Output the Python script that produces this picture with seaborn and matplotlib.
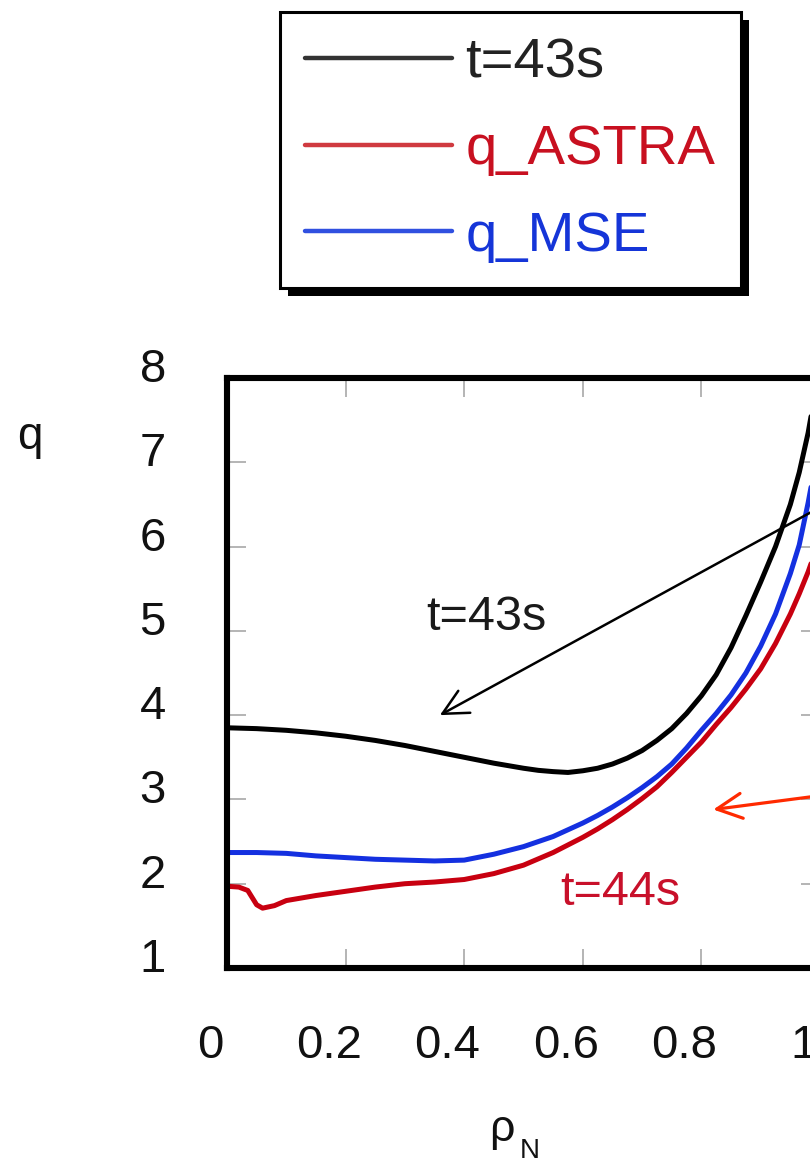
import numpy as np
import pandas as pd
import matplotlib
matplotlib.use("Agg")
import matplotlib.pyplot as plt
import seaborn as sns
from matplotlib.transforms import ScaledTranslation
from matplotlib.lines import Line2D
from matplotlib.patches import Rectangle

# ---- data ----
rho_43 = [0, 0.05, 0.1, 0.15, 0.2, 0.25, 0.3, 0.35, 0.4, 0.45, 0.5, 0.525, 0.55,
          0.575, 0.6, 0.625, 0.65, 0.675, 0.7, 0.725, 0.75, 0.775, 0.8, 0.825,
          0.85, 0.875, 0.9, 0.925, 0.95, 0.965, 0.98, 0.99, 1.0]
q_43 = [3.85, 3.84, 3.82, 3.79, 3.75, 3.70, 3.64, 3.57, 3.50, 3.43, 3.37, 3.345, 3.33,
        3.32, 3.34, 3.37, 3.42, 3.49, 3.58, 3.70, 3.84, 4.02, 4.23, 4.48,
        4.80, 5.18, 5.58, 6.00, 6.50, 6.88, 7.35, 7.75, 8.2]

rho_mse = [0, 0.05, 0.1, 0.15, 0.2, 0.25, 0.3, 0.35, 0.4, 0.45, 0.5, 0.55, 0.6,
           0.625, 0.65, 0.675, 0.7, 0.725, 0.75, 0.775, 0.8, 0.825, 0.85, 0.875,
           0.9, 0.925, 0.95, 0.965, 0.98, 0.99, 1.0]
q_mse = [2.37, 2.37, 2.36, 2.33, 2.31, 2.29, 2.28, 2.27, 2.28, 2.35, 2.44, 2.56, 2.72,
         2.81, 2.91, 3.02, 3.14, 3.27, 3.42, 3.61, 3.82, 4.02, 4.24, 4.50,
         4.82, 5.20, 5.68, 6.02, 6.52, 6.90, 7.30]

rho_astra = [0, 0.02, 0.035, 0.05, 0.06, 0.08, 0.1, 0.15, 0.2, 0.25, 0.3, 0.35, 0.4,
             0.45, 0.5, 0.55, 0.6, 0.625, 0.65, 0.675, 0.7, 0.725, 0.75, 0.775, 0.8,
             0.825, 0.85, 0.875, 0.9, 0.925, 0.95, 0.965, 0.98, 0.99, 1.0]
q_astra = [1.97, 1.96, 1.92, 1.75, 1.71, 1.74, 1.80, 1.86, 1.91, 1.96, 2.00, 2.02, 2.05,
           2.12, 2.22, 2.37, 2.55, 2.65, 2.76, 2.88, 3.01, 3.15, 3.32, 3.50, 3.68,
           3.89, 4.09, 4.31, 4.55, 4.85, 5.20, 5.44, 5.70, 5.90, 6.12]

series_labels = ["t=43s", "q_ASTRA", "q_MSE"]
x_ticks = [0, 0.2, 0.4, 0.6, 0.8, 1.0]
x_ticklabels = ["0", "0.2", "0.4", "0.6", "0.8", "1"]
y_ticks = [1, 2, 3, 4, 5, 6, 7, 8]

line_colors = {"t=43s": "#000000", "q_ASTRA": "#c80010", "q_MSE": "#1430e0"}
legend_line_colors = ["#333333", "#d03a40", "#3050e0"]
legend_text_colors = ["#222222", "#c81020", "#1535d8"]

df = pd.concat([
    pd.DataFrame({"rho": rho_43, "q": q_43, "series": "t=43s"}),
    pd.DataFrame({"rho": rho_astra, "q": q_astra, "series": "q_ASTRA"}),
    pd.DataFrame({"rho": rho_mse, "q": q_mse, "series": "q_MSE"}),
], ignore_index=True)

sns.set_theme(style="white")
plt.rcParams["font.family"] = ["Liberation Sans", "DejaVu Sans"]

W, H = 810, 1159
fig = plt.figure(figsize=(W / 100, H / 100), dpi=100)
ax = fig.add_axes([227 / W, 1 - 968 / H, 593 / W, 590 / H])

sns.lineplot(data=df, x="rho", y="q", hue="series", palette=line_colors,
             sort=False, estimator=None, linewidth=3.6, legend=False, ax=ax)
for ln in ax.get_lines():
    ln.set_solid_joinstyle("round")
    ln.set_solid_capstyle("round")

ax.set_xlim(0, 1)
ax.set_ylim(1, 8)
ax.set_xticks(x_ticks)
ax.set_xticklabels(x_ticklabels)
ax.set_yticks(y_ticks)
ax.set_yticklabels([str(v) for v in y_ticks])
ax.set_xlabel("")
ax.set_ylabel("")

ax.tick_params(axis="both", which="major", direction="in", length=14, width=1.4,
               color="#b4b4b4", top=True, right=True, bottom=True, left=True,
               labelsize=34, labelcolor="#111111")
ax.tick_params(axis="x", pad=40)
ax.tick_params(axis="y", pad=44)
for s in ax.spines.values():
    s.set_linewidth(4.4)
    s.set_color("black")
    s.set_visible(True)

# shift tick labels like the reference
offx = ScaledTranslation(-17 / 100, 0, fig.dpi_scale_trans)
for t in ax.xaxis.get_major_ticks():
    t.label1.set_transform(t.label1.get_transform() + offx)
offy = ScaledTranslation(0, 13 / 100, fig.dpi_scale_trans)
for t in ax.yaxis.get_major_ticks():
    t.label1.set_transform(t.label1.get_transform() + offy)

# annotations
ax.text(0.438, 5.16, "t=43s", ha="center", va="center", fontsize=35, color="#1a1a1a")
ax.text(0.663, 1.89, "t=44s", ha="center", va="center", fontsize=35, color="#c8102a")
ax.annotate("", xy=(0.359, 4.0), xytext=(1.04, 6.62),
            arrowprops=dict(arrowstyle="->,head_length=0.9,head_width=0.45",
                            color="black", lw=1.8, shrinkA=0, shrinkB=0,
                            mutation_scale=20),
            annotation_clip=False)
ax.annotate("", xy=(0.820, 2.88), xytext=(1.06, 3.10),
            arrowprops=dict(arrowstyle="->,head_length=0.9,head_width=0.45",
                            color="#ff2a00", lw=2.3, shrinkA=0, shrinkB=0,
                            mutation_scale=20),
            annotation_clip=False)

# axis labels
fig.text(30 / W, 1 - 437 / H, "q", ha="center", va="center", fontsize=33, color="#111111")
fig.text(502 / W, 1 - 1130 / H, "ρ", ha="center", va="center", fontsize=32, color="#111111")
fig.text(520 / W, 1 - 1138 / H, "N", ha="left", va="top", fontsize=20, color="#111111")

# legend
handles = [Line2D([0], [0], color=c, lw=3.2) for c in legend_line_colors]
leg = fig.legend(handles, series_labels, loc="upper left",
                 bbox_to_anchor=(280 / W, 1 - 12 / H), borderaxespad=0,
                 fontsize=40.5, handlelength=2.6, handletextpad=0.25,
                 labelspacing=0.62, borderpad=0.45, fancybox=False,
                 frameon=True, labelcolor=legend_text_colors)
leg.get_frame().set_edgecolor("black")
leg.get_frame().set_linewidth(2.2)
leg.get_frame().set_facecolor("white")
leg.get_frame().set_alpha(1)
leg.set_zorder(10)

fig.canvas.draw()
bb = leg.get_window_extent().transformed(fig.transFigure.inverted())
shadow = Rectangle((bb.x0 + 8 / W, bb.y0 - 8 / H), bb.width, bb.height,
                   transform=fig.transFigure, facecolor="black", edgecolor="none",
                   zorder=9)
fig.add_artist(shadow)

fig.savefig("out.png", dpi=100)
